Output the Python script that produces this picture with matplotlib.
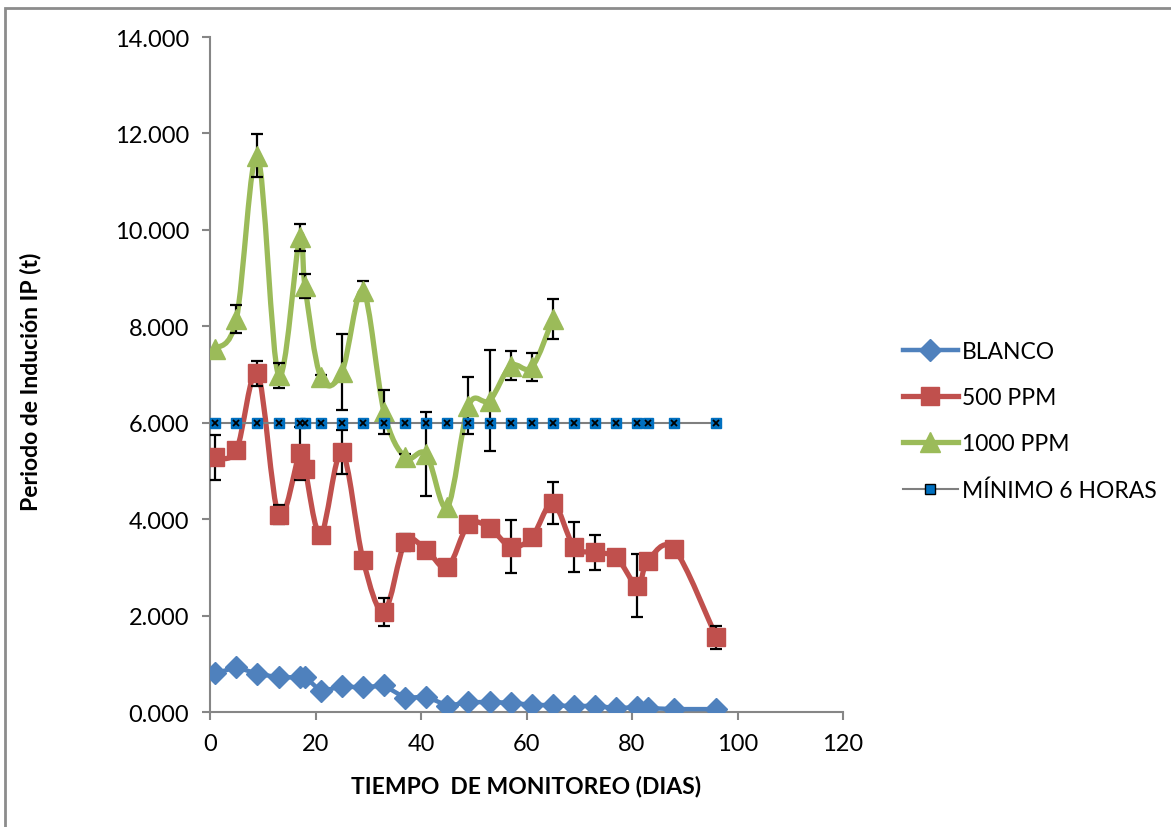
import matplotlib as mpl
mpl.use('Agg')

import matplotlib.pyplot as plt
from matplotlib.path import Path
from matplotlib.patches import PathPatch, Rectangle
from matplotlib.lines import Line2D
from matplotlib.ticker import FormatStrFormatter

plt.rcParams['font.family'] = ['Lato', 'DejaVu Sans']

# dias de monitoreo
dias = [1, 5, 9, 13, 17, 18, 21, 25, 29, 33, 37, 41, 45, 49, 53, 57, 61,
        65, 69, 73, 77, 81, 83, 88, 96]

blanco = [0.80, 0.93, 0.79, 0.72, 0.72, 0.73, 0.43, 0.53, 0.51, 0.55, 0.29,
          0.32, 0.13, 0.20, 0.21, 0.19, 0.15, 0.14, 0.12, 0.13, 0.08, 0.10,
          0.08, 0.06, 0.06]

ppm500 = [5.28, 5.43, 7.03, 4.09, 5.37, 5.05, 3.68, 5.39, 3.16, 2.08, 3.52,
          3.36, 3.00, 3.89, 3.82, 3.43, 3.62, 4.33, 3.43, 3.31, 3.21, 2.62,
          3.13, 3.38, 1.55]
err500 = [0.47, 0.0, 0.26, 0.20, 0.55, 0.0, 0.0, 0.45, 0.0, 0.29, 0.18,
          0.0, 0.0, 0.0, 0.0, 0.55, 0.0, 0.44, 0.52, 0.36, 0.0, 0.65,
          0.0, 0.0, 0.24]

dias1000 = [1, 5, 9, 13, 17, 18, 21, 25, 29, 33, 37, 41, 45, 49, 53, 57, 61, 65]
ppm1000 = [7.53, 8.15, 11.54, 6.98, 9.85, 8.84, 6.94, 7.05, 8.74, 6.22, 5.28,
           5.35, 4.25, 6.35, 6.46, 7.18, 7.15, 8.15]
err1000 = [0.0, 0.29, 0.45, 0.25, 0.28, 0.25, 0.05, 0.78, 0.20, 0.45, 0.08,
           0.88, 0.0, 0.59, 1.04, 0.30, 0.29, 0.42]

minimo = [6.0] * len(dias)

labels = ['BLANCO', '500 PPM', '1000 PPM', 'MÍNIMO 6 HORAS']
c_blue = '#4F81BD'
c_red = '#C0504D'
c_green = '#9BBB59'
c_min = '#0070C0'


def smooth_path(x, y):
    # curva suavizada tipo Excel (Catmull-Rom con Bezier cubico)
    n = len(x)
    verts = [(x[0], y[0])]
    codes = [Path.MOVETO]
    for i in range(n - 1):
        a = i - 1 if i > 0 else i
        d = i + 2 if i + 2 < n else i + 1
        c1 = (x[i] + (x[i + 1] - x[a]) / 6, y[i] + (y[i + 1] - y[a]) / 6)
        c2 = (x[i + 1] - (x[d] - x[i]) / 6, y[i + 1] - (y[d] - y[i]) / 6)
        verts += [c1, c2, (x[i + 1], y[i + 1])]
        codes += [Path.CURVE4] * 3
    return Path(verts, codes)


fig = plt.figure(figsize=(11.71, 8.28), dpi=100)
fig.patches.append(Rectangle((5 / 1171, -0.1), 1.2, (828 - 9) / 828 + 0.1,
                             transform=fig.transFigure, fill=False,
                             edgecolor='#8c8c8c', lw=2))
ax = fig.add_axes([210 / 1171, 1 - 713 / 828, 633 / 1171, 675 / 828])

# blanco
ax.plot(dias, blanco, color=c_blue, lw=3.2, marker='D', ms=11,
        markeredgecolor=c_blue, zorder=3)

# 500 ppm
ax.add_patch(PathPatch(smooth_path(dias, ppm500), fill=False, edgecolor=c_red,
                       lw=3.8, capstyle='round', joinstyle='round', zorder=2))
e500 = [(d, v, e) for d, v, e in zip(dias, ppm500, err500) if e > 0]
ax.errorbar([p[0] for p in e500], [p[1] for p in e500],
            yerr=[p[2] for p in e500], fmt='none', ecolor='black',
            elinewidth=1.6, capsize=4.5, capthick=1.6, zorder=3)
ax.plot(dias, ppm500, ls='none', marker='s', ms=13, color=c_red, zorder=4)

# 1000 ppm
ax.add_patch(PathPatch(smooth_path(dias1000, ppm1000), fill=False,
                       edgecolor=c_green, lw=3.8, capstyle='round',
                       joinstyle='round', zorder=2))
e1000 = [(d, v, e) for d, v, e in zip(dias1000, ppm1000, err1000) if e > 0]
ax.errorbar([p[0] for p in e1000], [p[1] for p in e1000],
            yerr=[p[2] for p in e1000], fmt='none', ecolor='black',
            elinewidth=1.6, capsize=4.5, capthick=1.6, zorder=3)
ax.plot(dias1000, ppm1000, ls='none', marker='^', ms=15, color=c_green,
        zorder=4)

# minimo 6 horas
ax.plot(dias, minimo, color='#7f7f7f', lw=1.5, zorder=5)
ax.plot(dias, minimo, ls='none', marker='s', ms=6.5, color=c_min,
        markeredgecolor=c_min, zorder=6)
ax.plot(dias, minimo, ls='none', marker='x', ms=5, color='black',
        markeredgewidth=1.3, zorder=7)

ax.set_xlim(0, 120)
ax.set_ylim(0, 14)
ax.set_xticks(range(0, 121, 20))
ax.set_yticks(range(0, 15, 2))
ax.yaxis.set_major_formatter(FormatStrFormatter('%.3f'))
for s in ['top', 'right']:
    ax.spines[s].set_visible(False)
for s in ['left', 'bottom']:
    ax.spines[s].set_color('#868686')
    ax.spines[s].set_linewidth(1.5)
ax.tick_params(axis='both', direction='out', length=6, width=1.5,
               color='#868686', labelsize=17)
ax.tick_params(axis='x', pad=9)
ax.tick_params(axis='y', pad=9)

ax.set_xlabel('TIEMPO  DE MONITOREO (DIAS)', fontsize=16.5, fontweight='bold')
ax.set_ylabel('Periodo de Indución IP (t)', fontsize=16.5, fontweight='bold')
ax.xaxis.set_label_coords(0.5, (713 - 776) / 675)
ax.yaxis.set_label_coords((41 - 210) / 633, 0.49)

handles = [
    Line2D([], [], color=c_blue, lw=3.2, marker='D', ms=11),
    Line2D([], [], color=c_red, lw=3.8, marker='s', ms=13),
    Line2D([], [], color=c_green, lw=3.8, marker='^', ms=15),
    Line2D([], [], color='#7f7f7f', lw=1.5, marker='s', ms=6.5,
           markerfacecolor=c_min, markeredgecolor='black'),
]
fig.legend(handles, labels, loc='center left',
           bbox_to_anchor=(882 / 1171, 1 - 422 / 828), frameon=False,
           fontsize=16.5, handlelength=2.4, handletextpad=0.2,
           labelspacing=1.1)

fig.savefig('out.png', dpi=100)
